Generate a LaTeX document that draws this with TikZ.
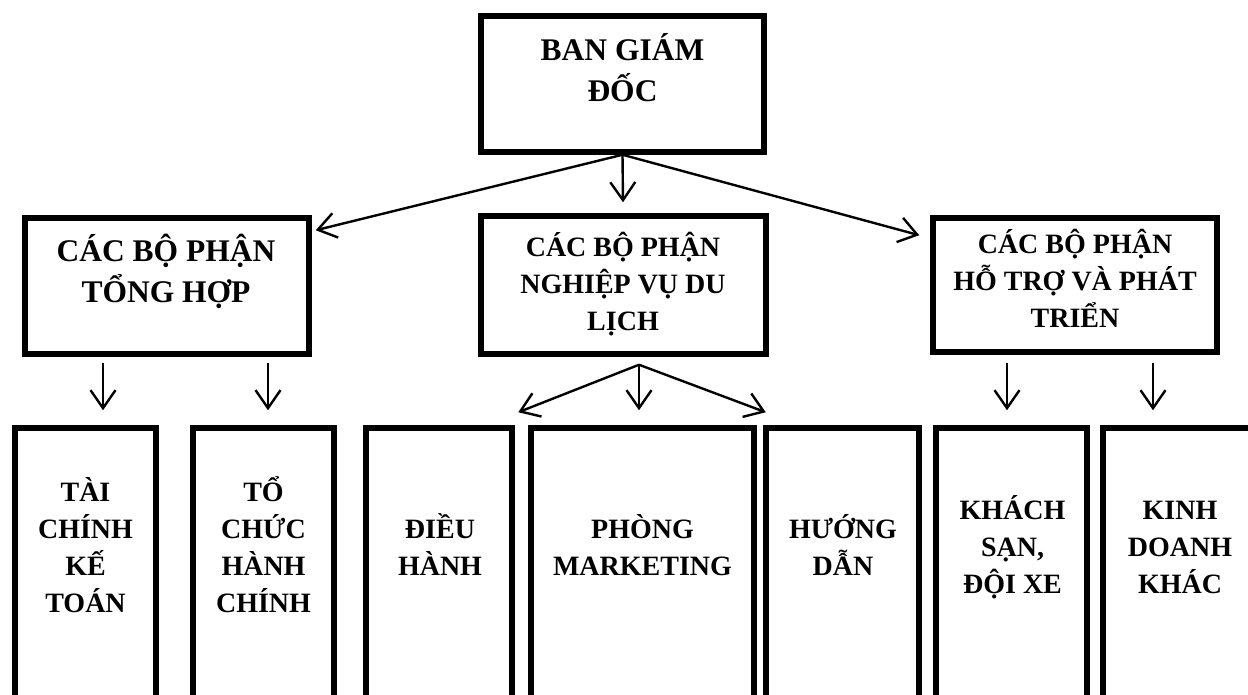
\documentclass[tikz,border=0pt]{standalone}
\usepackage{fontspec}
\setmainfont{Liberation Serif}
\usetikzlibrary{arrows.meta}
\tikzset{
  box/.style={draw=black, line width=5.5pt, rectangle, inner sep=0pt, fill=none},
  arr/.style={draw=black, line width=2.4pt, -{Straight Barb[length=18pt,width=25pt,line width=2.4pt]}},
  bigtxt/.style={anchor=base, align=center, inner sep=0pt, font=\bfseries\fontsize{31.5}{41}\selectfont},
  txt/.style={anchor=base, align=center, inner sep=0pt, font=\bfseries\fontsize{28}{36.8}\selectfont},
}
\begin{document}
\begin{tikzpicture}[x=1pt,y=-1pt]
\useasboundingbox (0,0) rectangle (1248,695);
\clip (0,0) rectangle (1248,695);
% boxes
\node[box, minimum width=283pt, minimum height=136pt] (T) at (622.5,84) {};
\node[box, minimum width=284pt, minimum height=136pt] (GL) at (167,286) {};
\node[box, minimum width=285pt, minimum height=138pt] (GM) at (623.5,285) {};
\node[box, minimum width=284pt, minimum height=134pt] (GR) at (1075,285) {};
\node[box, minimum width=141pt, minimum height=282pt] (B1) at (85.5,569) {};
\node[box, minimum width=141pt, minimum height=282pt] (B2) at (263.5,569) {};
\node[box, minimum width=146pt, minimum height=282pt] (B3) at (439,569) {};
\node[box, minimum width=223pt, minimum height=282pt] (B4) at (642.5,569) {};
\node[box, minimum width=153pt, minimum height=282pt] (B5) at (842.5,569) {};
\node[box, minimum width=151pt, minimum height=282pt] (B6) at (1011.5,569) {};
\node[box, minimum width=157pt, minimum height=282pt] (B7) at (1181.5,569) {};
% texts
\node[bigtxt] (tT) at (622.5,102) {BAN GIÁM\\ĐỐC};
\node[bigtxt] (tGL) at (166,302) {CÁC BỘ PHẬN\\TỔNG HỢP};
\node[txt] (tGM) at (623,330) {CÁC BỘ PHẬN\\NGHIỆP VỤ DU\\LỊCH};
\node[txt] (tGR) at (1075,327) {CÁC BỘ PHẬN\\HỖ TRỢ VÀ PHÁT\\TRIỂN};
\node[txt] (t1) at (85.5,612) {TÀI\\CHÍNH\\KẾ\\TOÁN};
\node[txt] (t2) at (263.5,612) {TỔ\\CHỨC\\HÀNH\\CHÍNH};
\node[txt] (t3) at (440,575) {ĐIỀU\\HÀNH};
\node[txt] (t4) at (642.5,575) {PHÒNG\\MARKETING};
\node[txt] (t5) at (843,575) {HƯỚNG\\DẪN};
\node[txt] (t6) at (1012.5,593) {KHÁCH\\SẠN,\\ĐỘI XE};
\node[txt] (t7) at (1180,593) {KINH\\DOANH\\KHÁC};
% connectors
\draw[arr] (T.south) -- ([xshift=-0.5pt,yshift=11pt]GM.north);
\draw[arr] (T.south) -- ([xshift=4pt,yshift=-15pt]GL.north east);
\draw[arr] (T.south) -- ([xshift=-11pt,yshift=-20pt]GR.north west);
\coordinate (m0) at ([xshift=15.5pt,yshift=-8pt]GM.south);
\draw[arr] (m0) -- ([xshift=-10pt,yshift=13pt]B4.north west);
\draw[arr] (m0) -- ([xshift=-3.5pt,yshift=15pt]B4.north);
\draw[arr] (m0) -- ([xshift=9pt,yshift=13pt]B4.north east);
\draw[arr] ([xshift=-64pt,yshift=-6pt]GL.south) -- ([xshift=17.5pt,yshift=15pt]B1.north);
\draw[arr] ([xshift=101pt,yshift=-6pt]GL.south) -- ([xshift=4.5pt,yshift=15pt]B2.north);
\draw[arr] ([xshift=-68pt,yshift=-8pt]GR.south) -- ([xshift=-4.5pt,yshift=15pt]B6.north);
\draw[arr] ([xshift=78pt,yshift=-8pt]GR.south) -- ([xshift=-28.5pt,yshift=15pt]B7.north);
\end{tikzpicture}
\end{document}
